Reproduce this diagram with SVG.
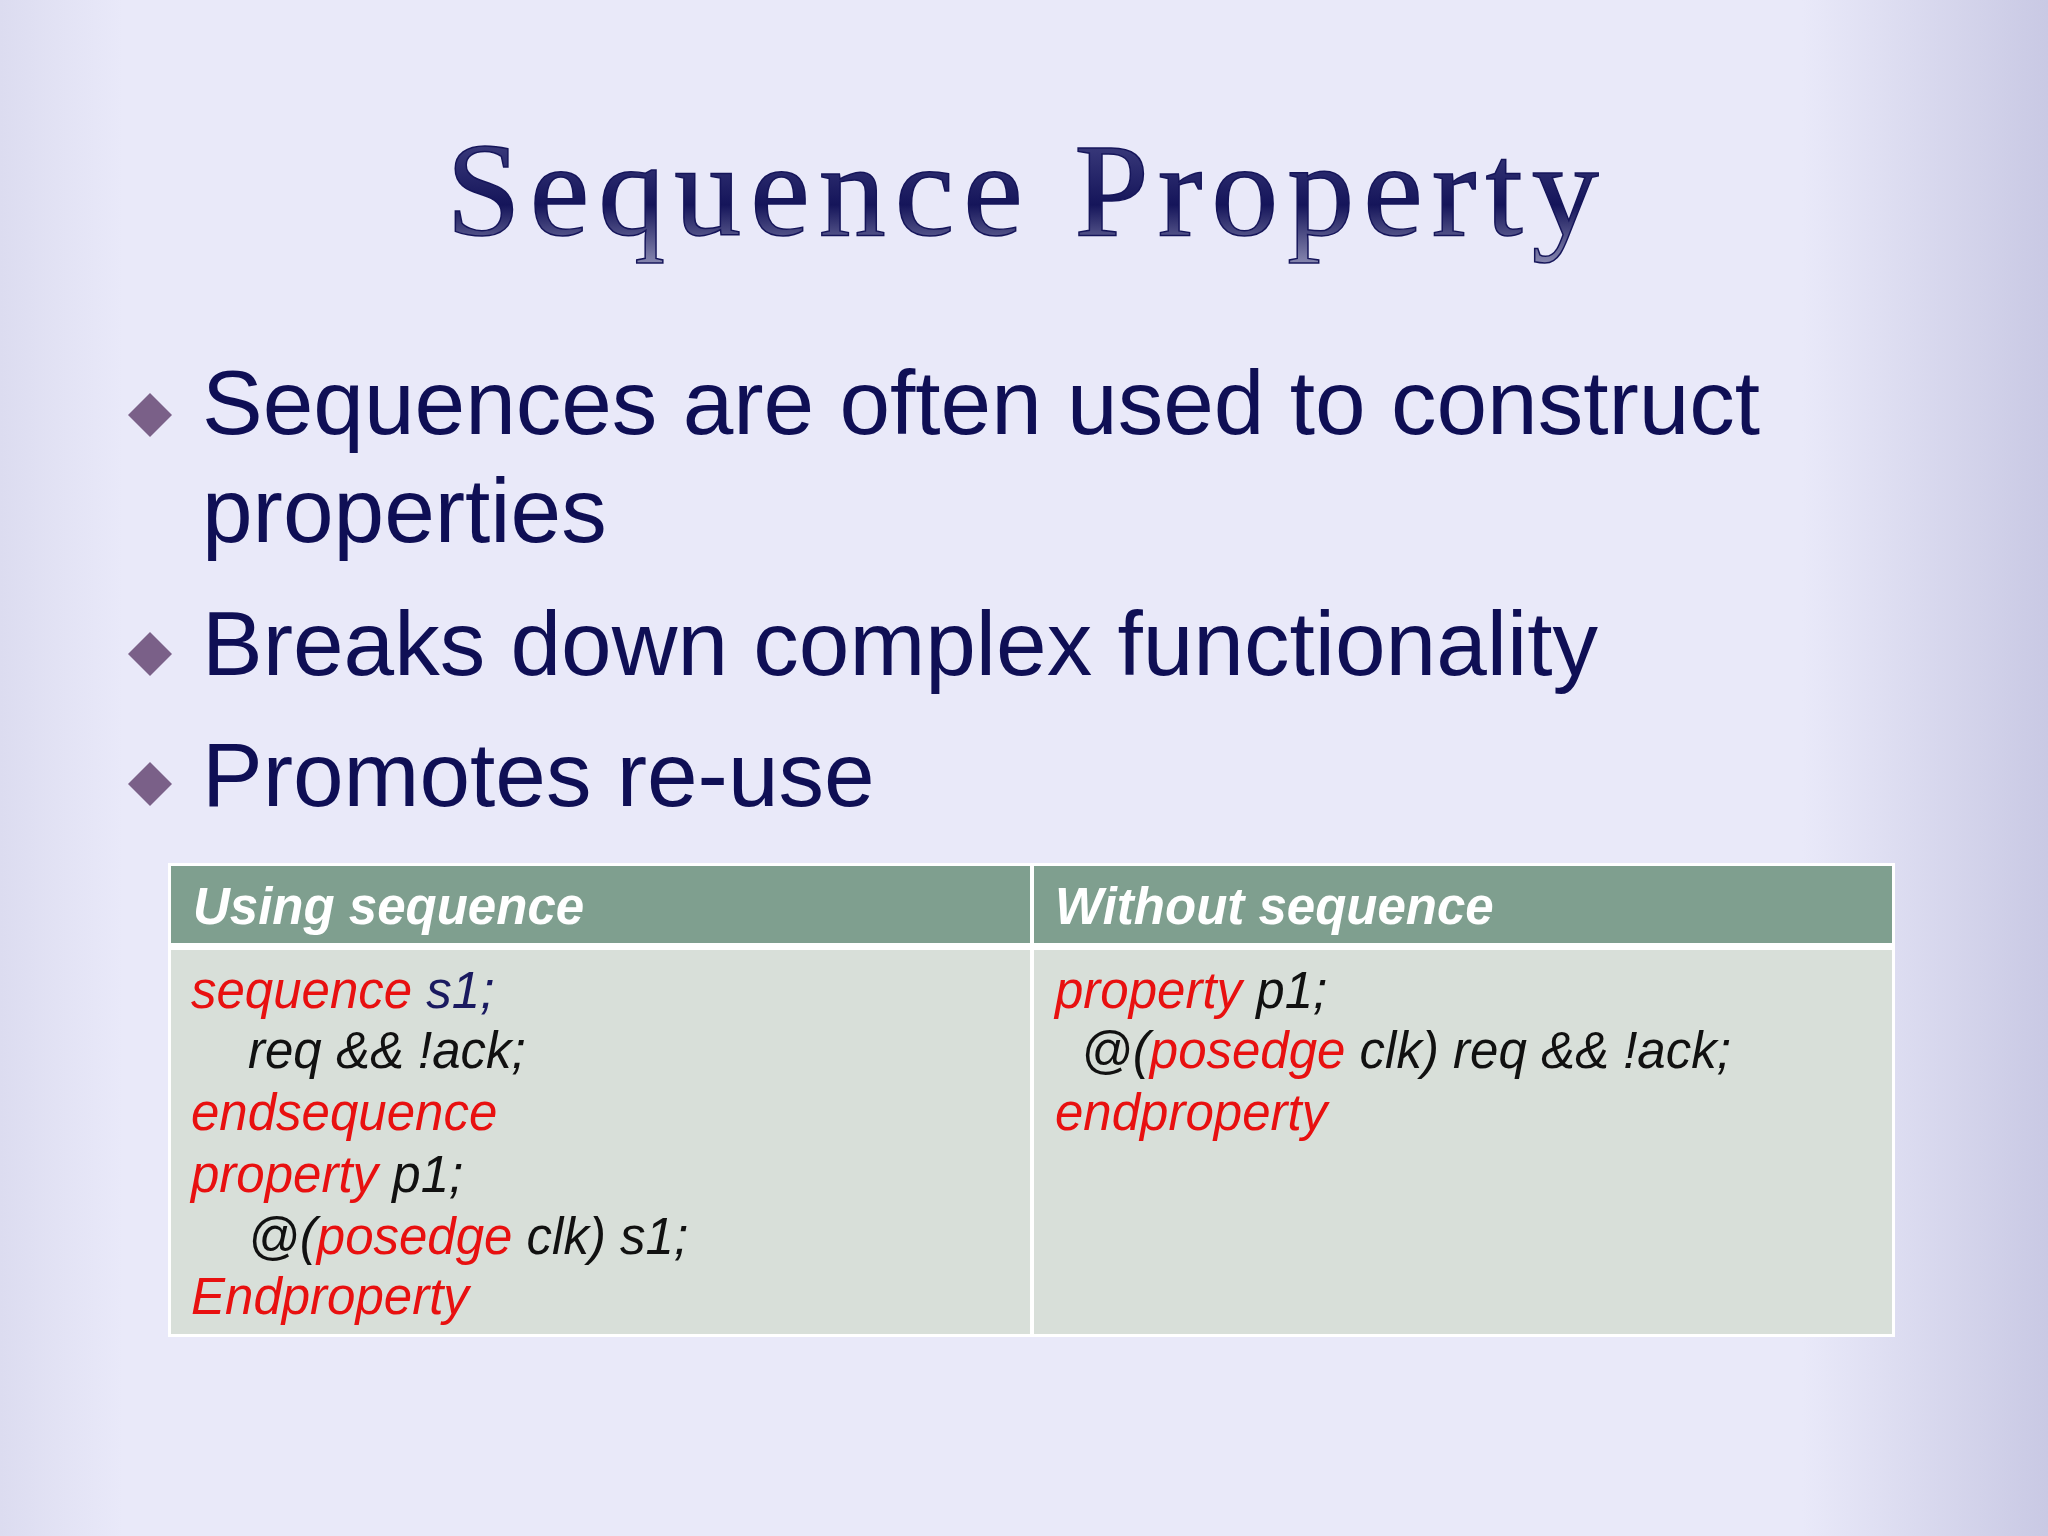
<svg xmlns="http://www.w3.org/2000/svg" width="2048" height="1536" viewBox="0 0 2048 1536">
<defs>
<linearGradient id="bg" x1="0" y1="0" x2="1" y2="0">
<stop offset="0" stop-color="#dcdcf0"/><stop offset="0.06" stop-color="#e9e9f9"/><stop offset="0.88" stop-color="#e9e9f9"/><stop offset="1" stop-color="#c9c9e4"/>
</linearGradient>
<linearGradient id="tg" x1="0" y1="0" x2="0" y2="1">
<stop offset="0" stop-color="#4a4a8a"/><stop offset="0.6" stop-color="#15155a"/><stop offset="1" stop-color="#8888b0"/>
</linearGradient>
<style>
.b{font-family:"Liberation Sans",Arial,sans-serif;font-size:91px;fill:#0f0f55}
.h{font-family:"Liberation Sans",Arial,sans-serif;font-size:51px;font-weight:bold;font-style:italic;fill:#fff}
.c{font-family:"Liberation Sans",Arial,sans-serif;font-size:51px;font-style:italic;fill:#111}
.r{fill:#e81010}.n{fill:#1a1a60}
.d{fill:#7a6088}
</style>
</defs>
<rect width="2048" height="1536" fill="url(#bg)"/>
<text x="1027" y="235" text-anchor="middle" font-family="Liberation Serif,serif" font-size="134" fill="url(#tg)" stroke="#15155a" stroke-width="1.5" letter-spacing="9">Sequence Property</text>
<g id="bullets">
<path class="d" d="M150 393l22 22-22 22-22-22z"/>
<path class="d" d="M150 632l22 22-22 22-22-22z"/>
<path class="d" d="M150 762l22 22-22 22-22-22z"/>
<text class="b" x="202" y="434">Sequences are often used to construct</text>
<text class="b" x="202" y="542">properties</text>
<text class="b" x="202" y="675">Breaks down complex functionality</text>
<text class="b" x="202" y="806">Promotes re-use</text>
</g>
<g id="table">
<rect x="168" y="863" width="1727" height="474" fill="#fff"/>
<rect x="171" y="866" width="859" height="77" fill="#7f9f8f"/>
<rect x="1034" y="866" width="858" height="77" fill="#7f9f8f"/>
<rect x="171" y="950" width="859" height="384" fill="#d8dfd9"/>
<rect x="1034" y="950" width="858" height="384" fill="#d8dfd9"/>
<text class="h" x="193" y="924">Using sequence</text>
<text class="h" x="1055" y="924">Without sequence</text>
<text class="c" x="191" y="1008"><tspan class="r">sequence</tspan><tspan class="n"> s1;</tspan></text>
<text class="c" x="248" y="1068">req &amp;&amp; !ack;</text>
<text class="c r" x="191" y="1130">endsequence</text>
<text class="c" x="191" y="1192"><tspan class="r">property</tspan> p1;</text>
<text class="c" x="248" y="1254">@(<tspan class="r">posedge</tspan> clk) s1;</text>
<text class="c r" x="191" y="1314">Endproperty</text>
<text class="c" x="1055" y="1008"><tspan class="r">property</tspan> p1;</text>
<text class="c" x="1081" y="1068">@(<tspan class="r">posedge</tspan> clk) req &amp;&amp; !ack;</text>
<text class="c r" x="1055" y="1130">endproperty</text>
</g>
</svg>
